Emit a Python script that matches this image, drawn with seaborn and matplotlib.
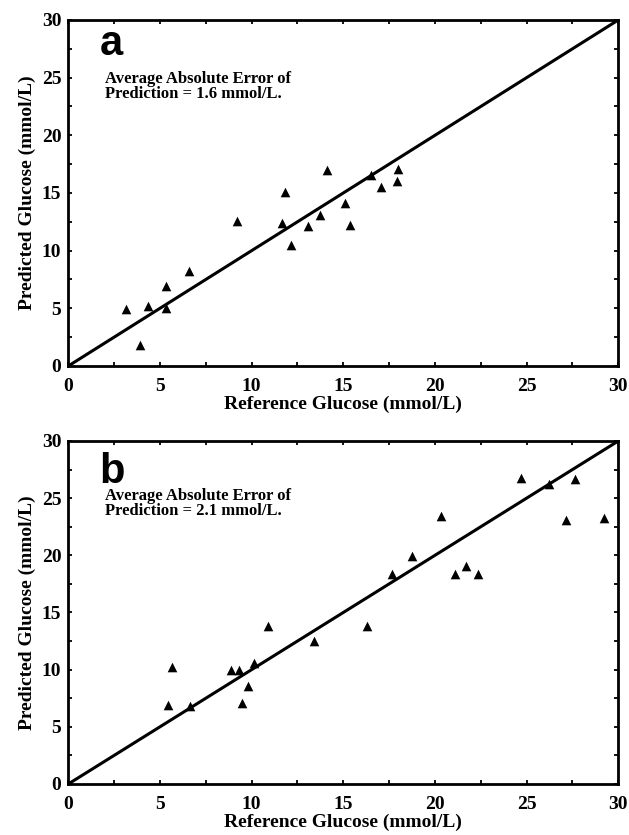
import numpy as np
import pandas as pd
import matplotlib
matplotlib.use("Agg")
import matplotlib.pyplot as plt
from matplotlib.ticker import MultipleLocator
import seaborn as sns

# ---- data ----
ref_a = [3.15, 3.9, 4.35, 5.35, 5.35, 6.6, 9.2, 11.65, 11.8, 12.15, 13.05, 13.75,
         14.1, 15.1, 15.35, 16.5, 17.05, 17.95, 18.0]
pred_a = [4.9, 1.8, 5.2, 6.9, 5.0, 8.2, 12.6, 12.4, 15.1, 10.5, 12.15, 13.1,
          17.0, 14.1, 12.25, 16.6, 15.5, 16.05, 17.1]

ref_b = [5.45, 5.65, 6.65, 8.85, 9.3, 9.5, 9.8, 10.15, 10.9, 13.4, 16.3, 17.65,
         18.75, 20.35, 21.1, 21.7, 22.35, 24.7, 26.2, 27.15, 27.65, 29.2]
pred_b = [6.9, 10.2, 6.8, 10.0, 10.0, 7.05, 8.6, 10.6, 13.8, 12.5, 13.8, 18.4,
          19.9, 23.4, 18.4, 19.1, 18.4, 26.8, 26.2, 23.1, 26.7, 23.3]

identity = [0, 30]
panel_letters = ["a", "b"]
error_texts = ["Average Absolute Error of\nPrediction = 1.6 mmol/L.",
               "Average Absolute Error of\nPrediction = 2.1 mmol/L."]
x_label = "Reference Glucose (mmol/L)"
y_label = "Predicted Glucose (mmol/L)"

sns.set_theme(style="white")
plt.rcParams["font.family"] = ["Liberation Serif", "DejaVu Serif"]
plt.rcParams["font.weight"] = "bold"
for key in ["text.color", "axes.labelcolor", "xtick.color", "ytick.color",
            "xtick.labelcolor", "ytick.labelcolor"]:
    plt.rcParams[key] = "black"

fig = plt.figure(figsize=(6.29, 8.35), dpi=100)
ax_a = fig.add_axes([0.1086, 0.5617, 0.8744, 0.4144])
ax_b = fig.add_axes([0.1086, 0.0611, 0.8744, 0.4108])

panels = [(ax_a, ref_a, pred_a), (ax_b, ref_b, pred_b)]
for i, (ax, xr, yp) in enumerate(panels):
    df = pd.DataFrame({"ref": xr, "pred": yp})
    line_df = pd.DataFrame({"x": identity, "y": identity})
    sns.lineplot(data=line_df, x="x", y="y", ax=ax, color="black", linewidth=2.2)
    sns.scatterplot(data=df, x="ref", y="pred", ax=ax, marker="^", color="black",
                    s=48, linewidth=0, zorder=5)
    ax.set_xlim(0, 30)
    ax.set_ylim(0, 30)
    ax.xaxis.set_major_locator(MultipleLocator(5))
    ax.yaxis.set_major_locator(MultipleLocator(5))
    ax.xaxis.set_minor_locator(MultipleLocator(2.5))
    ax.yaxis.set_minor_locator(MultipleLocator(2.5))
    ax.tick_params(which="both", direction="in", length=3, width=1.3, color="black",
                   top=True, right=True, bottom=True, left=True)
    ax.tick_params(axis="x", which="major", pad=9, labelsize=14, labelcolor="black")
    ax.tick_params(axis="y", which="major", pad=5, labelsize=14, labelcolor="black")
    for lab in ax.get_xticklabels() + ax.get_yticklabels():
        lab.set_fontweight("bold")
    for sp in ax.spines.values():
        sp.set_visible(True)
        sp.set_color("black")
        sp.set_linewidth(2.0)
    ax.set_xlabel(x_label, fontsize=14, fontweight="bold", labelpad=0, color="black")
    ax.set_ylabel(y_label, fontsize=14, fontweight="bold", labelpad=4, color="black")
    ax.text(1.7, 27.0 if i == 0 else 26.3, panel_letters[i], fontsize=30,
            fontweight="bold", family=["Liberation Sans", "DejaVu Sans"],
            ha="left", va="baseline", color="black")
    ax.text(2.0, 25.6 if i == 0 else 25.9, error_texts[i], fontsize=12,
            fontweight="bold", ha="left", va="top", linespacing=0.9, color="black")

fig.savefig("out.png", dpi=100)
